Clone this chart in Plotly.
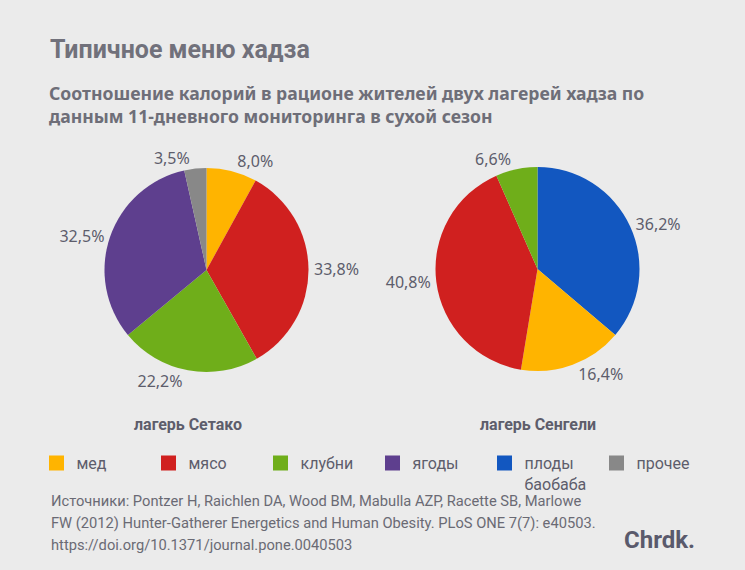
import plotly.graph_objects as go

# ---- data ----
setako_labels = ["мед", "мясо", "клубни", "ягоды", "прочее"]
setako_values = [8.0, 33.8, 22.2, 32.5, 3.5]
sengeli_labels = ["плоды баобаба", "мед", "мясо", "клубни"]
sengeli_values = [36.2, 16.4, 40.8, 6.6]
legend_labels = ["мед", "мясо", "клубни", "ягоды", "плоды<br>баобаба", "прочее"]
legend_keys = ["мед", "мясо", "клубни", "ягоды", "плоды баобаба", "прочее"]
camp_names = ["лагерь Сетако", "лагерь Сенгели"]

colors = {
    "мед": "#FFB400",
    "мясо": "#D0201F",
    "клубни": "#6FAE1A",
    "ягоды": "#5E3F8E",
    "плоды баобаба": "#1257C0",
    "прочее": "#888888",
}

W, H = 745, 570
BG = "#EBEBEB"
TXT = "#5d5d6b"
FONT = "Roboto, 'Noto Sans', sans-serif"
NOTO = "'Noto Sans', Roboto, sans-serif"

def fmt(v):
    return ("%.1f%%" % v).replace(".", ",")

fig = go.Figure()

def pie_domain(cx, cy, r):
    return dict(x=[(cx - r) / W, (cx + r) / W], y=[(H - cy - r) / H, (H - cy + r) / H])

for labels, values, (cx, cy) in [
    (setako_labels, setako_values, (206.5, 270)),
    (sengeli_labels, sengeli_values, (537.5, 269)),
]:
    fig.add_trace(go.Pie(
        labels=labels, values=values, sort=False, direction="clockwise", rotation=0,
        marker=dict(colors=[colors[l] for l in labels], line=dict(width=0)),
        text=[fmt(v) for v in values], textinfo="text", textposition="outside",
        outsidetextfont=dict(family=NOTO, size=16, color=TXT),
        domain=pie_domain(cx, cy, 102), showlegend=False, hoverinfo="label+text",
    ))

# legend via dummy traces
for key, lab in zip(legend_keys, legend_labels):
    fig.add_trace(go.Scatter(
        x=[None], y=[None], mode="markers", name=lab,
        marker=dict(symbol="square", size=15, color=colors[key]),
        showlegend=True,
    ))

ann = []
ann.append(dict(text="<b>Типичное меню хадза</b>", x=48 / W, y=1 - 49 / H, xref="paper", yref="paper",
                xanchor="left", yanchor="middle", showarrow=False,
                font=dict(family=FONT, size=25, color="#71717b")))
ann.append(dict(text="<b>Соотношение калорий в рационе жителей двух лагерей хадза по<br>"
                     "данным 11-дневного мониторинга в сухой сезон</b>", x=47 / W, y=1 - 104 / H,
                xref="paper", yref="paper", xanchor="left", yanchor="middle", align="left", showarrow=False,
                font=dict(family=NOTO, size=17.6, color="#6e6e78")))
for name, cx in zip(camp_names, [188, 538]):
    ann.append(dict(text="<b>" + name + "</b>", x=cx / W, y=1 - 424 / H, xref="paper", yref="paper",
                    xanchor="center", yanchor="middle", showarrow=False,
                    font=dict(family=FONT, size=16, color=TXT)))
src = ["Источники: Pontzer H, Raichlen DA, Wood BM, Mabulla AZP, Racette SB, Marlowe",
       "FW (2012) Hunter-Gatherer Energetics and Human Obesity. PLoS ONE 7(7): e40503.",
       "https://doi.org/10.1371/journal.pone.0040503"]
for i, line in enumerate(src):
    ann.append(dict(text=line, x=49 / W, y=1 - (501 + i * 22) / H, xref="paper", yref="paper",
                    xanchor="left", yanchor="middle", showarrow=False,
                    font=dict(family=FONT, size=14.7, color="#6a6a74")))
ann.append(dict(text="<b>Chrdk.</b>", x=697 / W, y=1 - 540 / H, xref="paper", yref="paper",
                xanchor="right", yanchor="middle", showarrow=False,
                font=dict(family=FONT, size=24, color="#5a5a6c")))

fig.update_layout(
    width=W, height=H, margin=dict(l=0, r=0, t=0, b=0),
    paper_bgcolor=BG, plot_bgcolor=BG,
    xaxis=dict(visible=False), yaxis=dict(visible=False),
    annotations=ann,
    legend=dict(orientation="h", x=36.5 / W, y=1 - 446 / H, xanchor="left", yanchor="top",
                entrywidth=67, entrywidthmode="pixels", itemsizing="trace",
                font=dict(family=FONT, size=16, color=TXT), bgcolor="rgba(0,0,0,0)",
                tracegroupgap=0, valign="top"),
    showlegend=True,
)

fig.write_html("out.html", config={"displayModeBar": False},
               post_script="document.body.style.margin='0px';")
